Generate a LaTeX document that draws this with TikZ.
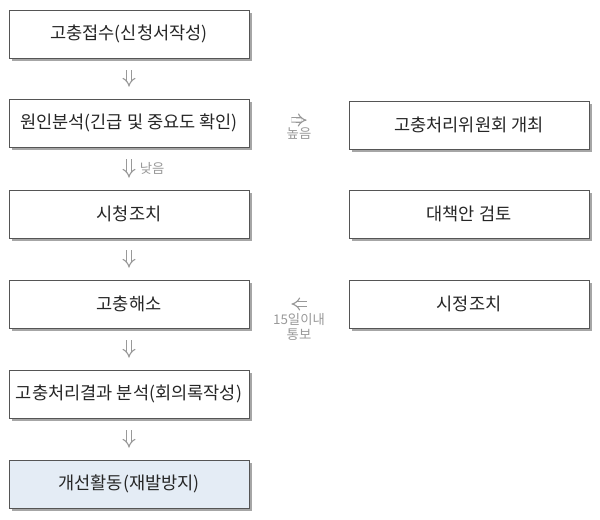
\documentclass[tikz,border=0pt]{standalone}
\usepackage{fontspec}
\setmainfont{Noto Sans CJK KR}
\usetikzlibrary{arrows.meta,shadows}
\definecolor{boxline}{HTML}{555555}
\definecolor{lastfill}{HTML}{E4ECF5}
\definecolor{arrowgray}{HTML}{999999}
\tikzset{
  stepbox/.style={draw=boxline, line width=0.5pt, fill=white, minimum width=6cm, minimum height=1.2cm,
    font=\fontsize{12.5}{15}\selectfont, text=black!85,
    drop shadow={shadow xshift=0.07cm, shadow yshift=-0.07cm, fill=gray!70, opacity=1}},
  flow/.style={draw=arrowgray, line width=0.8pt, double=white, double distance=2.4pt,
    -{Implies[length=4.5pt, width=10pt]}},
  note/.style={font=\fontsize{9.5}{11}\selectfont, text=arrowgray, align=center}
}
\begin{document}
\begin{tikzpicture}[x=0.025cm, y=-0.025cm]
      \useasboundingbox (0,0) rectangle (600,520);
      \draw
        (129,34) node[stepbox] (a){고충접수(신청서작성)}
        (129,123) node[stepbox] (b){원인분석(긴급 및 중요도 확인)}
        (129,214) node[stepbox] (c){시청조치}
        (129,304) node[stepbox] (d){고충해소}
        (129,394) node[stepbox] (e){고충처리결과 분석(회의록작성)}
        (129,484) node[stepbox, fill=lastfill] (f){개선활동(재발방지)}
        (469,125) node[stepbox] (p){고충처리위원회 개최}
        (469,214) node[stepbox] (q){대책안 검토}
        (469,304) node[stepbox] (r){시정조치};
      \begin{scope}[shorten <=0.3cm, shorten >=0.3cm]
        \draw[flow] (a) to (b);
        \draw[flow] (b) to node[note, right=4pt] {낮음} (c);
        \draw[flow] (c) to (d);
        \draw[flow] (d) to (e);
        \draw[flow] (e) to (f);
      \end{scope}
      \begin{scope}[shorten <=1.05cm, shorten >=1.05cm]
        \draw[flow] ([yshift=0.1cm]b.east) to node[note, below=2pt] {높음} ([yshift=0.1cm]p.west);
        \draw[flow] (r) to node[note, below=3pt] {15일이내\\통보} (d);
      \end{scope}
    \end{tikzpicture}
\end{document}
